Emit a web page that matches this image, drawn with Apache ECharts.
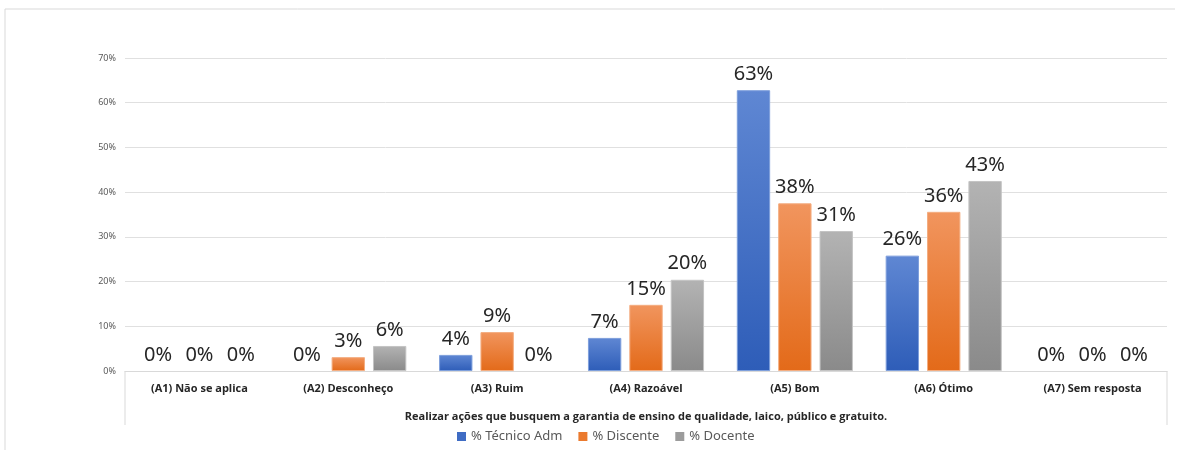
<!DOCTYPE html>
<html>
<head>
<meta charset="utf-8">
<script src="https://cdn.jsdelivr.net/npm/echarts@6/dist/echarts.min.js"></script>
<style>
html,body{margin:0;padding:0;background:#fff;}
#main{width:1182px;height:450px;}
</style>
</head>
<body>
<div id="main"></div>
<script>
const categories = ['(A1) Não se aplica','(A2) Desconheço','(A3) Ruim','(A4) Razoável','(A5) Bom','(A6) Ótimo','(A7) Sem resposta'];
const seriesNames = ['% Técnico Adm','% Discente','% Docente'];
const tecnicoAdm = [0, 0, 3.6, 7.4, 62.8, 25.8, 0];
const discente   = [0, 3.1, 8.7, 14.8, 37.5, 35.6, 0];
const docente    = [0, 5.6, 0, 20.4, 31.3, 42.5, 0];
const yTicks = [0, 10, 20, 30, 40, 50, 60, 70];
const axisTitle = 'Realizar ações que busquem a garantia de ensino de qualidade, laico, público e gratuito.';

const chart = echarts.init(document.getElementById('main'), null, {renderer:'canvas'});
const grad = (top, bottom) => new echarts.graphic.LinearGradient(0,0,0,1,[{offset:0,color:top},{offset:1,color:bottom}]);
const colors = [grad('#5f87d3','#2e5db8'), grad('#f1955e','#e36a19'), grad('#b3b3b3','#8a8a8a')];
const solid = ['#3f6cc4','#eb7a2e','#9c9c9c'];
const borders = ['#7e9fdc','#f4ad80','#c4c4c4'];
const dataSets = [tecnicoAdm, discente, docente];

const grid = {left:125, right:15, top:58, bottom:79};
const option = {
  animation:false,
  textStyle:{fontFamily:'Noto Sans'},
  legend:{
    data:seriesNames.map((n,i)=>({name:n, itemStyle:{color:solid[i], borderWidth:0}})),
    bottom:2, left:452, icon:'rect', itemWidth:9, itemHeight:9, itemGap:16,
    textStyle:{fontSize:13, color:'#595959', fontFamily:'Noto Sans'}
  },
  grid:grid,
  xAxis:{
    type:'category', data:categories,
    axisLine:{show:true, lineStyle:{color:'#d9d9d9'}},
    axisTick:{show:false},
    axisLabel:{fontSize:11, fontWeight:'bold', color:'#262626', margin:12, fontFamily:'Open Sans'},
    name:axisTitle, nameLocation:'middle', nameGap:40,
    nameTextStyle:{fontSize:11, fontWeight:'bold', color:'#262626', fontFamily:'Open Sans'}
  },
  yAxis:{
    type:'value', min:yTicks[0], max:yTicks[yTicks.length-1], interval:10,
    axisLine:{show:false}, axisTick:{show:false},
    axisLabel:{formatter:'{value}%', fontSize:9, color:'#595959', margin:9},
    splitLine:{lineStyle:{color:'#e0e0e0'}}
  },
  series: seriesNames.map((n,i)=>({
    name:n, type:'bar',
    data:dataSets[i].map(v => v === 0 ? {value:v, itemStyle:{borderWidth:0}} : v),
    barGap:'24%', barCategoryGap:'22%',
    itemStyle:{color:colors[i], borderColor:borders[i], borderWidth:1},
    label:{show:true, position:'top', distance:6, fontSize:20, color:'#262626', fontFamily:'Noto Sans',
      formatter:p=>Math.round(p.value)+'%'}
  }))
};
chart.setOption(option);

// Decorative frame and category-box lines, positioned from the grid rectangle
const W = chart.getWidth(), H = chart.getHeight();
const x0 = grid.left, x1 = W - grid.right, yb = H - grid.bottom;
chart.setOption({
  graphic:[
    {type:'line', shape:{x1:5,y1:9,x2:W-7,y2:9}, style:{stroke:'#d9d9d9',lineWidth:1}, silent:true},
    {type:'line', shape:{x1:5,y1:9,x2:5,y2:H}, style:{stroke:'#d9d9d9',lineWidth:1}, silent:true},
    {type:'line', shape:{x1:x0,y1:yb,x2:x0,y2:yb+54}, style:{stroke:'#d9d9d9',lineWidth:1}, silent:true},
    {type:'line', shape:{x1:x1,y1:yb,x2:x1,y2:yb+54}, style:{stroke:'#d9d9d9',lineWidth:1}, silent:true}
  ]
});
</script>
</body>
</html>
